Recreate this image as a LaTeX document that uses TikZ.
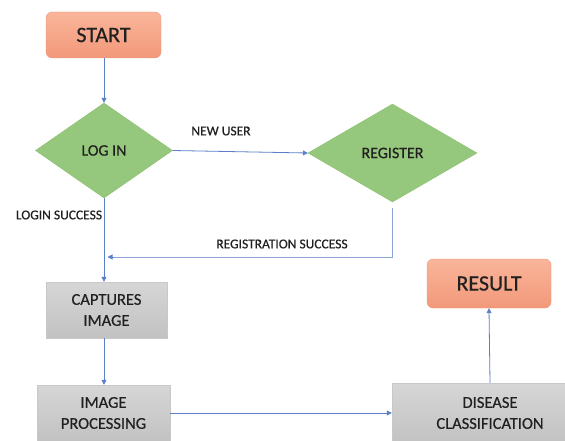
\documentclass[tikz,border=0pt]{standalone}
\usepackage{fontspec}
\setmainfont{Carlito}
\newfontfamily\heavy{Carlito}[FakeBold=0.5]
\usetikzlibrary{shapes.geometric,arrows.meta}
\definecolor{orangetop}{HTML}{F9B59A}
\definecolor{orangebot}{HTML}{F2987A}
\definecolor{orangeline}{HTML}{EC9A7C}
\definecolor{greenfill}{HTML}{95C77C}
\definecolor{greenline}{HTML}{8CC070}
\definecolor{graytop}{HTML}{D6D6D6}
\definecolor{graybot}{HTML}{C2C2C2}
\definecolor{grayline}{HTML}{C8C8C8}
\definecolor{arrowblue}{HTML}{5B7FC8}
\definecolor{textcol}{HTML}{202020}
\begin{document}
\begin{tikzpicture}[x=1pt,y=-1pt,
  termbox/.style={draw=orangeline, rounded corners=6pt, top color=orangetop, bottom color=orangebot,
    text=textcol, font=\heavy\fontsize{22}{24}\selectfont, inner sep=0pt},
  procbox/.style={draw=grayline, top color=graytop, bottom color=graybot, text=textcol,
    font=\heavy\fontsize{16.5}{21}\selectfont, align=center, inner sep=0pt},
  decision/.style={diamond, draw=greenline, fill=greenfill, inner sep=0pt, text=textcol,
    font=\heavy\fontsize{16}{18}\selectfont},
  arr/.style={draw=arrowblue, line width=0.8pt, -{Triangle[length=5pt,width=5pt]}},
  conn/.style={draw=arrowblue!70, line width=0.8pt},
  lbl/.style={font=\heavy\fontsize{13.5}{15}\selectfont, text=textcol, inner sep=0pt}]
\useasboundingbox (0,0) rectangle (565,441);
\clip (0,0) rectangle (565,441);
\fill[white] (0,0) rectangle (565,441);

\node[termbox, minimum width=115pt, minimum height=46pt] (start) at (103.5,35) {START};
\node[decision, minimum width=137pt, minimum height=95pt] (login) at (104,150.5) {LOG IN};
\node[decision, minimum width=169pt, minimum height=98pt] (register) at (392.5,153) {REGISTER};
\node[procbox, minimum width=121pt, minimum height=56pt] (capture) at (106.5,310) {CAPTURES\\IMAGE};
\node[procbox, minimum width=133pt, minimum height=56pt] (improc) at (103.5,413) {IMAGE\\PROCESSING};
\node[procbox, minimum width=196pt, minimum height=60pt] (disease) at (490,413) {DISEASE\\CLASSIFICATION};
\node[termbox, minimum width=124pt, minimum height=49pt] (result) at (489,283.5) {RESULT};

\coordinate (regdown) at (392.5,257);
\coordinate (regjoin) at (104,257);

\draw[arr] (start.south -| login.north) -- (login.north);
\draw[arr] (login.east) -- (register.west);
\draw[arr] (login.south) -- (login.south |- capture.north);
\draw[conn, shorten <=6pt] (register.south) -- (regdown) -- ([xshift=6pt]regjoin);
\draw[arr] ([xshift=10pt]regjoin) -- ([xshift=3.5pt]regjoin);
\draw[arr] (capture.south -| login.south) -- (improc.north -| login.south);
\draw[arr] (improc.east) -- (disease.west);
\draw[arr] (disease.north) -- (result.south);

\node[lbl] (newuser) at (221,131) {NEW USER};
\node[lbl] (loginsucc) at (59,215) {LOGIN SUCCESS};
\node[lbl] (regsucc) at (282,244) {REGISTRATION SUCCESS};
\end{tikzpicture}
\end{document}
